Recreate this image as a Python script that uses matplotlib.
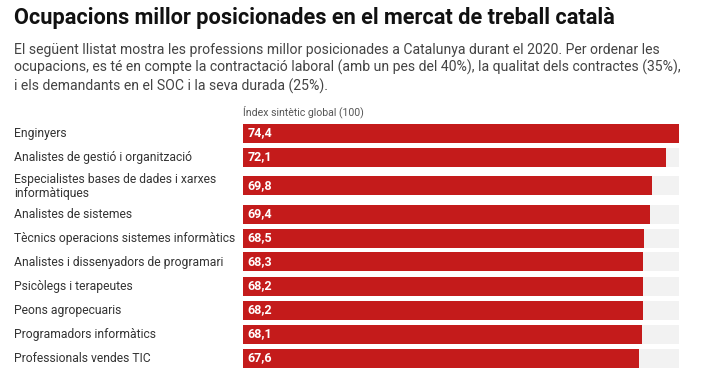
import numpy as np
import matplotlib
matplotlib.use('Agg')
import matplotlib.pyplot as plt
from matplotlib.transforms import blended_transform_factory

plt.rcParams['font.family'] = ['Roboto', 'DejaVu Sans']

# data
occupations = [
    'Enginyers',
    'Analistes de gestió i organització',
    'Especialistes bases de dades i xarxes\ninformàtiques',
    'Analistes de sistemes',
    'Tècnics operacions sistemes informàtics',
    'Analistes i dissenyadors de programari',
    'Psicòlegs i terapeutes',
    'Peons agropecuaris',
    'Programadors informàtics',
    'Professionals vendes TIC',
]
index_values = [74.4, 72.1, 69.8, 69.4, 68.5, 68.3, 68.2, 68.2, 68.1, 67.6]
value_labels = ['74,4', '72,1', '69,8', '69,4', '68,5', '68,3', '68,2', '68,2', '68,1', '67,6']

title = 'Ocupacions millor posicionades en el mercat de treball català'
subtitle = ('El següent llistat mostra les professions millor posicionades a Catalunya durant el 2020. Per ordenar les\n'
            'ocupacions, es té en compte la contractació laboral (amb un pes del 40%), la qualitat dels contractes (35%),\n'
            'i els demandants en el SOC i la seva durada (25%).')
axis_note = 'Índex sintètic global (100)'

W, H = 702, 389
fig = plt.figure(figsize=(W / 100, H / 100), dpi=100)

# row layout: two-line labels get a taller row
row_h = np.array([33 if '\n' in o else 24 for o in occupations], dtype=float)
centers = np.cumsum(row_h) - row_h / 2
total = row_h.sum()

top_px = 121
ax = fig.add_axes([243 / W, 1 - (top_px + total) / H, 436 / W, total / H])
vmax = max(index_values)
ax.barh(centers, [vmax] * len(centers), height=19, color='#f2f2f2', zorder=1)
ax.barh(centers, index_values, height=19, color='#c41b1b', zorder=2)
ax.set_xlim(0, vmax)
ax.set_ylim(total, 0)
ax.axis('off')

for c, lab in zip(centers, value_labels):
    ax.text(0.8, c, lab, color='white', fontweight='bold', fontsize=9,
            va='center', ha='left', zorder=3)

tr = blended_transform_factory(fig.transFigure, ax.transData)
for c, occ in zip(centers, occupations):
    ax.text(14 / W, c + 0.8, occ, transform=tr, fontsize=8.75, color='#333333',
            va='center', ha='left', linespacing=1.15)

fig.text(14 / W, 1 - 7 / H, title, fontsize=15.7, fontweight='bold',
         color='#111111', va='top', ha='left')
fig.text(14 / W, 1 - 43 / H, subtitle, fontsize=10.1, color='#444444',
         va='top', ha='left', linespacing=1.25)
fig.text(243 / W, 1 - 112 / H, axis_note, fontsize=7.6, color='#555555',
         va='center', ha='left')

fig.savefig('out.png', dpi=100)
